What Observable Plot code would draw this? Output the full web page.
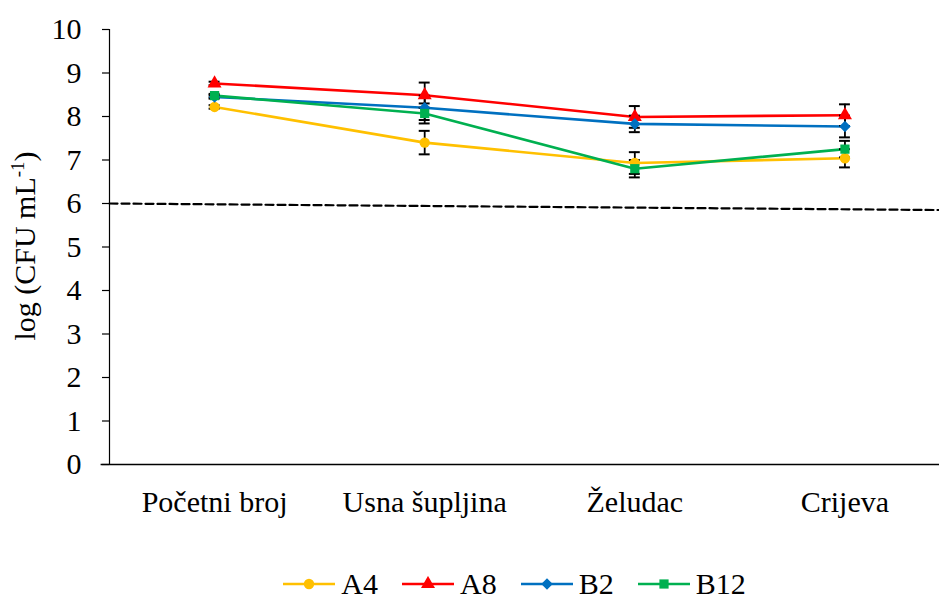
<!DOCTYPE html>
<html>
<head>
<meta charset="utf-8">
<script src="https://cdn.jsdelivr.net/npm/d3@7"></script>
<script src="https://cdn.jsdelivr.net/npm/@observablehq/plot@0.6"></script>
<style>
  html, body { margin: 0; padding: 0; background: #fff; }
  body { width: 939px; height: 598px; overflow: hidden; font-family: "Liberation Serif", "Times New Roman", serif; }
  #legend { display: flex; align-items: center; justify-content: center; padding-left: 90px; height: 43px; box-sizing: border-box; padding-top: 14px; }
  .item { display: flex; align-items: center; margin: 0 12px; }
  .item span { font-size: 30px; margin-left: 6px; color: #000; line-height: 34px; font-family: "Liberation Serif", "Times New Roman", serif; }
</style>
</head>
<body>
<div id="chart"></div>
<div id="legend"></div>
<script>
const categories = ["Početni broj", "Usna šupljina", "Želudac", "Crijeva"];
const seriesNames = ["A4", "A8", "B2", "B12"];
const seriesColors = ["#FFC000", "#FF0000", "#0070C0", "#00B050"];
const seriesSymbols = ["circle", "triangle", "diamond2", "square"];

const a4 = [8.22, 7.40, 6.93, 7.04];
const a8 = [8.76, 8.49, 7.99, 8.03];
const b2 = [8.45, 8.20, 7.83, 7.77];
const b12 = [8.48, 8.07, 6.80, 7.25];

const a4Err = [0.04, 0.27, 0.25, 0.21];
const a8Err = [0.04, 0.29, 0.25, 0.25];
const b2Err = [0.04, 0.28, 0.19, 0.25];
const b12Err = [0.04, 0.23, 0.20, 0.19];

const limitX = [-0.5, 3.45];
const limitY = [6.0, 5.85];

const yTicks = [0, 1, 2, 3, 4, 5, 6, 7, 8, 9, 10];
const yLabel = "log (CFU mL";
const yLabelSup = "-1";

const values = [a4, a8, b2, b12];
const errors = [a4Err, a8Err, b2Err, b12Err];
const rows = [];
seriesNames.forEach((s, si) => {
  categories.forEach((c, ci) => {
    rows.push({series: s, x: ci, y: values[si][ci], err: errors[si][ci]});
  });
});
const limitLine = limitX.map((x, i) => ({x, y: limitY[i]}));
const capHalf = 0.026;
const serif = '"Liberation Serif", "Times New Roman", serif';

const plot = Plot.plot({
  width: 939,
  height: 555,
  marginLeft: 109,
  marginRight: 0,
  marginTop: 29,
  marginBottom: 91,
  style: {fontFamily: serif, fontSize: "30px", color: "#000", background: "#fff"},
  x: {type: "linear", domain: [-0.5, 3.45]},
  y: {domain: [0, 10]},
  color: {domain: seriesNames, range: seriesColors},
  symbol: {domain: seriesNames, range: seriesSymbols},
  marks: [
    Plot.axisY({ticks: yTicks, tickSize: 7, tickPadding: 21, label: null, fontSize: 30, fontFamily: serif, stroke: "#000", strokeWidth: 1.2}),
    Plot.axisX({ticks: [0, 1, 2, 3], tickFormat: i => categories[i], tickSize: 0, tickPadding: 26, label: null, fontSize: 30, fontFamily: serif}),
    Plot.ruleX([-0.5], {stroke: "#000", strokeWidth: 1.2}),
    Plot.ruleY([0], {x1: -0.54, x2: 3.45, stroke: "#000", strokeWidth: 1.6}),
    Plot.line(limitLine, {x: "x", y: "y", stroke: "#000", strokeWidth: 2.2, strokeDasharray: "8,4"}),
    Plot.line(rows, {x: "x", y: "y", z: "series", stroke: "series", strokeWidth: 2.6}),
    Plot.ruleX(rows, {x: "x", y1: d => d.y - d.err, y2: d => d.y + d.err, stroke: "#000", strokeWidth: 1.8}),
    Plot.ruleY(rows, {y: d => d.y + d.err, x1: d => d.x - capHalf, x2: d => d.x + capHalf, stroke: "#000", strokeWidth: 2}),
    Plot.ruleY(rows, {y: d => d.y - d.err, x1: d => d.x - capHalf, x2: d => d.x + capHalf, stroke: "#000", strokeWidth: 2}),
    Plot.dot(rows, {x: "x", y: "y", symbol: "series", fill: "series", stroke: "none", r: 5.2})
  ]
});
document.getElementById("chart").appendChild(plot);

// y-axis title with superscript
const svg = d3.select(plot);
const t = svg.append("text")
  .attr("transform", "translate(35,246) rotate(-90)")
  .attr("text-anchor", "middle")
  .attr("font-size", 30)
  .attr("font-family", serif)
  .attr("fill", "#000");
t.append("tspan").text(yLabel);
t.append("tspan").attr("font-size", 19).attr("dy", -11).text(yLabelSup);
t.append("tspan").attr("dy", 11).text(")");

// legend
const legend = d3.select("#legend");
const symMap = {circle: d3.symbolCircle, triangle: d3.symbolTriangle, diamond2: d3.symbolDiamond2, square: d3.symbolSquare};
seriesNames.forEach((s, i) => {
  const item = legend.append("div").attr("class", "item");
  const sv = item.append("svg").attr("width", 52).attr("height", 16);
  sv.append("line").attr("x1", 0).attr("x2", 52).attr("y1", 8).attr("y2", 8)
    .attr("stroke", seriesColors[i]).attr("stroke-width", 2.6);
  sv.append("path").attr("transform", "translate(26,8)")
    .attr("d", d3.symbol(symMap[seriesSymbols[i]], Math.PI * 5.2 * 5.2)())
    .attr("fill", seriesColors[i]);
  item.append("span").text(s);
});
</script>
</body>
</html>
